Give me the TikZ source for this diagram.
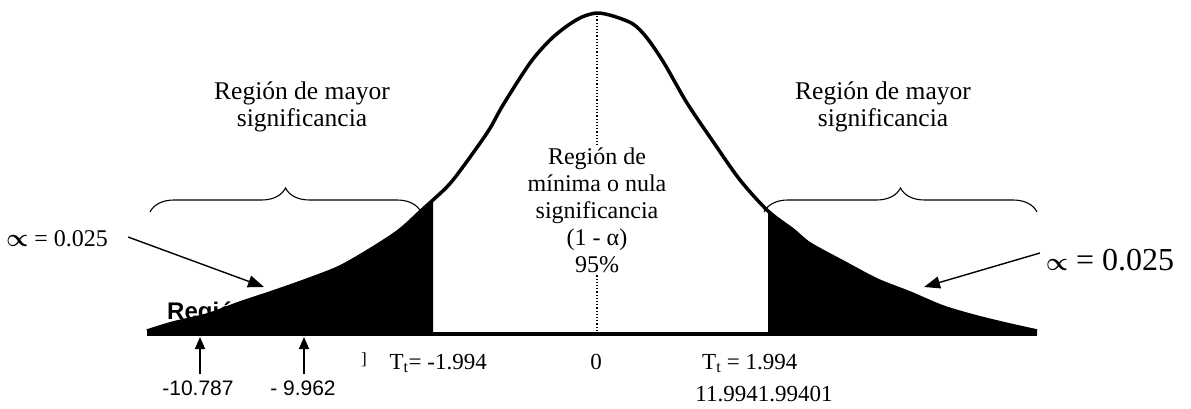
\documentclass[tikz,border=0pt]{standalone}
\usepackage{fontspec}
\setmainfont{Liberation Serif}
\setsansfont{Liberation Sans}
\usetikzlibrary{arrows.meta,decorations.pathreplacing}
\begin{document}
\begin{tikzpicture}[x=1pt,y=-1pt,
  lbl/.style={inner sep=0pt, font=\fontsize{24}{27}\selectfont, align=center},
  sidelbl/.style={inner sep=0pt, font=\fontsize{25.5}{27.5}\selectfont, align=center},
  small/.style={inner sep=0pt, font=\fontsize{23}{26}\selectfont},
  val/.style={inner sep=0pt, font=\sffamily\fontsize{21}{24}\selectfont},
  arr/.style={line width=1.4pt, -{Triangle[length=16pt,width=12pt]}},
  uparr/.style={line width=1.6pt, -{Triangle[length=12pt,width=10pt]}},
  bracestyle/.style={line width=1.1pt, decorate, decoration={brace, amplitude=24pt}},
  curveline/.style={line width=3.5pt, line join=round}]
\useasboundingbox (0,0) rectangle (1191,409);

% partially hidden bold label
\node[inner sep=0pt, anchor=base west, font=\sffamily\bfseries\fontsize{24}{27}\selectfont] (reg) at (167,319) {Región};

% dotted centre line
\draw[dotted, line width=1.2pt] (597,13) -- (597,334);

% black tails
\begin{scope}
\clip (0,0) rectangle (433,409) (768,0) rectangle (1191,409);
\fill[black] plot[smooth, tension=0.5] coordinates {(147,331) (173,323) (207,315) (240,303) (273,292) (307,280) (340,267) (373,248) (400,230) (423,209) (433,200) (453,180) (487,133) (503,105) (530,63) (550,40) (567,26) (582,17) (597,13) (613,16) (633,24) (647,38) (664,63) (687,103) (714,143) (740,180) (768,211) (793,230) (810,244) (843,262) (877,280) (910,293) (943,307) (977,317) (1010,325) (1037,331)} -- (1037,335) -- (147,335) -- cycle;
\end{scope}

% curve outline
\draw[curveline] plot[smooth, tension=0.5] coordinates {(147,331) (173,323) (207,315) (240,303) (273,292) (307,280) (340,267) (373,248) (400,230) (423,209) (433,200) (453,180) (487,133) (503,105) (530,63) (550,40) (567,26) (582,17) (597,13) (613,16) (633,24) (647,38) (664,63) (687,103) (714,143) (740,180) (768,211) (793,230) (810,244) (843,262) (877,280) (910,293) (943,307) (977,317) (1010,325) (1037,331)};

% baseline
\draw[line width=3.5pt] (147,334) -- (1037,334);

% braces
\draw[bracestyle] (150,212) -- (421,212);
\draw[bracestyle] (764,212) -- (1037,212);

% side labels (base anchor = last line)
\node[sidelbl, anchor=base] (lsig) at (302,127) {Región de mayor\\significancia};
\node[sidelbl, anchor=base] (rsig) at (883,127) {Región de mayor\\significancia};

% centre label
\node[lbl, anchor=base, fill=white, inner sep=2pt] (csig) at (597,272) {Región de\\mínima o nula\\significancia\\(1 - α)\\95\%};

% alpha labels and arrows
\node[inner sep=0pt, anchor=base, font=\fontsize{24}{27}\selectfont] (lalpha) at (57,246) {{\boldmath$\propto$} = 0.025};
\node[inner sep=0pt, anchor=base, font=\fontsize{32}{36}\selectfont] (ralpha) at (1110,270) {{\boldmath$\propto$} = 0.025};
\coordinate (la0) at (128,237);
\coordinate (ltip) at (264,287);
\coordinate (ra0) at (1040,253);
\coordinate (rtip) at (924,287);
\draw[arr] (la0) -- (ltip);
\draw[arr] (ra0) -- (rtip);

% values with up arrows
\node[val, anchor=base] (v1) at (198,395) {-10.787};
\node[val, anchor=base] (v2) at (303,395) {- 9.962};
\coordinate (v1a) at (200,374);
\coordinate (v1b) at (200,337);
\coordinate (v2a) at (304,374);
\coordinate (v2b) at (304,337);
\draw[uparr] (v1a) -- (v1b);
\draw[uparr] (v2a) -- (v2b);

% critical values
\node[inner sep=0pt, anchor=base, font=\fontsize{17}{20}\selectfont] (brk) at (364,364) {]};
\node[small, anchor=base east] (tl) at (487,369) {T\textsubscript{t}= -1.994};
\node[small, anchor=base] (zero) at (596,369) {0};
\node[small, anchor=base west] (tr) at (702,369) {T\textsubscript{t} = 1.994};
\node[small, anchor=base] (tr2) at (764,401) {11.9941.99401};
\end{tikzpicture}
\end{document}
